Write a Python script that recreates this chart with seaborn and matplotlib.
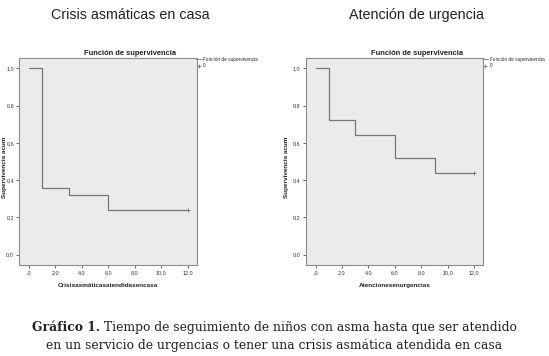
import numpy as np
import pandas as pd
import matplotlib
matplotlib.use("Agg")
import matplotlib.pyplot as plt
import seaborn as sns
from matplotlib.lines import Line2D

# Kaplan-Meier steps
casa_t = [0, 1, 3, 6, 12]
casa_s = [1.0, 0.36, 0.32, 0.24, 0.24]
urg_t = [0, 1, 3, 6, 9, 12]
urg_s = [1.0, 0.72, 0.64, 0.52, 0.44, 0.44]

x_ticks = [0, 2, 4, 6, 8, 10, 12]
x_labels = [",0", "2,0", "4,0", "6,0", "8,0", "10,0", "12,0"]
y_ticks = [0.0, 0.2, 0.4, 0.6, 0.8, 1.0]
y_labels = ["0,0", "0,2", "0,4", "0,6", "0,8", "1,0"]

sns.set_style("white")
plt.rcParams["font.family"] = ["Liberation Sans", "DejaVu Sans"]

fig = plt.figure(figsize=(5.49, 3.56), dpi=100)

panels = [
    (casa_t, casa_s, "Crisis asmáticas en casa", "Crisisasmáticasatendidasencasa", 0.0355, -0.068),
    (urg_t, urg_s, "Atención de urgencia", "Atencionesenurgencias", 0.5574, -0.095),
]

for t, s, title, xlab, left, ylx in panels:
    ax = fig.add_axes([left, 0.2556, 0.323, 0.5815])
    ax.set_facecolor("#ebebeb")
    df = pd.DataFrame({"t": t, "s": s})
    sns.lineplot(data=df, x="t", y="s", ax=ax, drawstyle="steps-post",
                 color="#777777", linewidth=0.9)
    ax.plot(t[-1], s[-1], marker="+", color="#777777", markersize=3.5, mew=0.7)
    ax.set_xlim(-0.72, 12.68)
    ax.set_ylim(-0.055, 1.055)
    ax.set_xticks(x_ticks)
    ax.set_xticklabels(x_labels)
    ax.set_yticks(y_ticks)
    ax.set_yticklabels(y_labels)
    ax.tick_params(axis="both", which="both", direction="out", length=2,
                   width=0.6, color="#555555", labelsize=3.9,
                   labelcolor="#333333", pad=2, bottom=True, left=True)
    for sp in ax.spines.values():
        sp.set_color("#8c8c8c")
        sp.set_linewidth(0.8)
    ax.set_xlabel(xlab, fontsize=4.6, fontweight="bold", color="#222222", labelpad=5)
    ax.set_ylabel("Supervivencia acum", fontsize=4.6, fontweight="bold", color="#222222")
    ax.yaxis.set_label_coords(ylx, 0.47)
    handles = [Line2D([], [], color="#777777", lw=0.6, drawstyle="steps-post"),
               Line2D([], [], color="#777777", lw=0, marker="+", markersize=3, mew=0.6)]
    ax.legend(handles, ["Función de supervivencia", "0"], loc="upper left",
              bbox_to_anchor=(0.985, 1.015), frameon=False, fontsize=3.4,
              handlelength=1.2, handletextpad=0.3, labelspacing=0.3,
              borderaxespad=0.0)
    cx = left + 0.323 * 0.5
    fig.text(cx + 0.04, 0.851, "Función de supervivencia", ha="center", va="center",
             fontsize=5.4, fontweight="bold", color="#222222")
    fig.text(cx + 0.04, 0.958, title, ha="center", va="center",
             fontsize=10.3, color="#222222")

serif = ["DejaVu Serif"]
cap_bold = "Gráfico 1."
cap_1 = " Tiempo de seguimiento de niños con asma hasta que ser atendido"
cap_2 = "en un servicio de urgencias o tener una crisis asmática atendida en casa"
fs = 8.9
r = fig.canvas.get_renderer()
tb = fig.text(0, 0.081, cap_bold, ha="left", va="center", fontsize=fs,
              family=serif, fontweight="bold", color="#222222")
tr = fig.text(0, 0.081, cap_1, ha="left", va="center", fontsize=fs,
              family=serif, color="#222222")
wb = tb.get_window_extent(r).width
wr = tr.get_window_extent(r).width
W = fig.bbox.width
x0 = (W - wb - wr) / 2
tb.set_x(x0 / W)
tr.set_x((x0 + wb) / W)
fig.text(0.5, 0.031, cap_2, ha="center", va="center", fontsize=fs,
         family=serif, color="#222222")
plt.savefig("out.png", dpi=100)
